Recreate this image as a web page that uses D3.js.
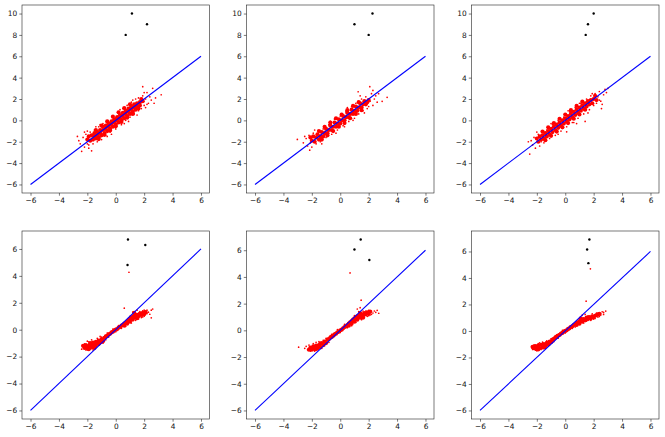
<!DOCTYPE html>
<html lang="en">
<head>
<meta charset="utf-8">
<script src="https://cdn.jsdelivr.net/npm/d3@7"></script>
<style>
  body { margin: 0; background: #fff; }
  text { font-family: "DejaVu Sans", sans-serif; }
</style>
</head>
<body>
<svg id="chart" width="665" height="437"></svg>

<script>
// ---- data, one set per panel ----
// dense middle of each red cloud
var core1 = [[-1.9,-1.5],[-1.8,-1.9],[-1.7,-1.4],[-1.6,-1.8],[-1.5,-1.2],[-1.5,-1.5],[-1.4,-1.7],[-1.3,-1.1],[-1.3,-1.4],[-1.2,-1.6],[-1.1,-0.9],[-1.1,-1.2],[-1.0,-1.4],[-0.9,-0.6],[-0.9,-0.9],[-0.8,-1.2],[-0.7,-0.5],[-0.7,-0.8],[-0.6,-1.0],[-0.5,-0.3],[-0.5,-0.6],[-0.4,-0.8],[-0.3,-0.1],[-0.3,-0.4],[-0.2,-0.6],[-0.1,0.1],[-0.1,-0.2],[0.0,-0.4],[0.1,0.3],[0.1,0.0],[0.2,-0.2],[0.3,0.5],[0.3,0.2],[0.4,0.0],[0.5,0.7],[0.5,0.4],[0.6,0.2],[0.7,0.9],[0.7,0.6],[0.8,0.4],[0.9,1.1],[0.9,0.8],[1.0,0.6],[1.1,1.3],[1.1,1.0],[1.2,0.8],[1.3,1.5],[1.3,1.2],[1.4,1.0],[1.5,1.6],[1.5,1.3],[1.7,1.7],[1.7,1.4],[1.9,1.8],
  [-1.4,-0.9],[-1.0,-0.5],[-0.6,-0.1],[-0.2,0.35],[0.2,0.75],[0.6,1.15],[1.0,1.5],[-1.2,-1.75],[-0.8,-1.35],[-0.4,-0.95],[0.0,-0.55],[0.4,-0.15],[0.8,0.25],[1.2,0.6],[1.6,1.1],[1.8,2.0],[-2.0,-1.8]];
var core2 = [[-2.0,-1.9],[-1.9,-1.5],[-1.8,-2.0],[-1.7,-1.6],[-1.6,-1.3],[-1.5,-1.8],[-1.4,-1.5],[-1.3,-1.1],[-1.2,-1.5],[-1.1,-1.2],[-1.0,-0.8],[-0.9,-1.2],[-0.8,-0.9],[-0.7,-0.5],[-0.6,-0.9],[-0.5,-0.6],[-0.4,-0.2],[-0.3,-0.6],[-0.2,-0.3],[-0.1,0.1],[0.0,-0.3],[0.1,0.0],[0.2,0.4],[0.3,0.0],[0.4,0.3],[0.5,0.7],[0.6,0.3],[0.7,0.6],[0.8,1.0],[0.9,0.6],[1.0,0.9],[1.1,1.3],[1.2,0.9],[1.3,1.2],[1.4,1.6],[1.5,1.2],[1.6,1.5],[1.7,1.8],[1.8,1.5],[1.9,1.7],
  [-1.5,-1.0],[-1.1,-0.6],[-0.7,-0.2],[-0.3,0.2],[0.1,0.55],[0.5,0.95],[0.9,1.35],[1.3,1.7],[-1.3,-1.8],[-0.9,-1.4],[-0.5,-1.0],[-0.1,-0.6],[0.3,-0.25],[0.7,0.2],[1.1,0.6],[1.5,0.95],[2.0,1.9],[-2.1,-1.6]];
var core3 = [[-2.0,-1.7],[-1.9,-2.0],[-1.8,-1.5],[-1.7,-1.8],[-1.6,-1.4],[-1.5,-1.7],[-1.4,-1.2],[-1.3,-1.5],[-1.2,-1.0],[-1.1,-1.3],[-1.0,-0.8],[-0.9,-1.1],[-0.8,-0.6],[-0.7,-0.9],[-0.6,-0.4],[-0.5,-0.7],[-0.4,-0.2],[-0.3,-0.5],[-0.2,0.0],[-0.1,-0.3],[0.0,0.2],[0.1,-0.1],[0.2,0.4],[0.3,0.1],[0.4,0.6],[0.5,0.3],[0.6,0.8],[0.7,0.5],[0.8,1.0],[0.9,0.7],[1.0,1.2],[1.1,0.9],[1.2,1.4],[1.3,1.1],[1.4,1.6],[1.5,1.3],[1.6,1.8],[1.7,1.5],[1.8,1.9],[1.9,1.6],[2.0,2.0],
  [-1.6,-1.05],[-1.2,-0.65],[-0.8,-0.25],[-0.4,0.15],[0.0,0.55],[0.4,0.95],[0.8,1.35],[1.2,1.75],[-1.4,-1.85],[-1.0,-1.45],[-0.6,-1.05],[-0.2,-0.65],[0.2,-0.25],[0.6,0.15],[1.0,0.55],[1.4,1.0],[2.1,2.3],[2.2,1.9]];
var core4 = [[-2.2,-1.35],[-2.1,-1.15],[-2.0,-1.4],[-1.9,-1.2],[-1.8,-1.0],[-1.8,-1.35],[-1.7,-1.15],[-1.6,-0.95],[-1.6,-1.3],[-1.5,-1.1],[-1.4,-0.9],[-1.4,-1.2],[-1.3,-1.0],[-1.2,-0.8],[-1.1,-0.95],[-1.0,-0.7],[-0.9,-0.85],[-0.8,-0.6],[-0.7,-0.5],[-0.6,-0.45],[-0.5,-0.35],[-0.4,-0.3],[-0.3,-0.2],[-0.2,-0.15],[-0.1,-0.05],[0.0,0.0],[0.1,0.05],[0.2,0.15],[0.3,0.2],[0.4,0.3],[0.5,0.35],[0.6,0.45],[0.6,0.3],[0.7,0.5],[0.8,0.6],[0.8,0.45],[0.9,0.7],[1.0,0.8],[1.0,0.6],[1.1,0.9],[1.2,0.95],[1.2,0.75],[1.3,1.05],[1.4,0.9],[1.5,1.1],[1.6,1.0],[1.7,1.2],[1.8,1.1],[1.9,1.25],[2.0,1.15],
  [-2.3,-1.2],[-1.9,-1.45],[-1.5,-1.35],[-1.2,-1.05],[1.3,1.25],[1.5,0.85],[2.1,1.3]];
var core5 = [[-2.1,-1.3],[-2.0,-1.45],[-1.9,-1.2],[-1.8,-1.4],[-1.7,-1.15],[-1.6,-1.35],[-1.5,-1.1],[-1.4,-1.25],[-1.3,-0.95],[-1.2,-1.1],[-1.1,-0.85],[-1.0,-0.95],[-0.9,-0.7],[-0.8,-0.65],[-0.7,-0.55],[-0.6,-0.5],[-0.5,-0.4],[-0.4,-0.3],[-0.3,-0.25],[-0.2,-0.15],[-0.1,-0.1],[0.0,0.0],[0.1,0.05],[0.2,0.15],[0.3,0.25],[0.4,0.3],[0.5,0.4],[0.6,0.5],[0.6,0.35],[0.7,0.6],[0.8,0.7],[0.8,0.5],[0.9,0.8],[1.0,0.9],[1.0,0.65],[1.1,0.95],[1.2,1.05],[1.2,0.8],[1.3,1.1],[1.4,0.95],[1.5,1.2],[1.6,1.1],[1.7,1.3],[1.8,1.2],[1.9,1.35],[2.0,1.25],[2.1,1.4],
  [-2.2,-1.45],[-1.7,-1.4],[-1.4,-1.0],[1.4,1.3],[1.6,0.95]];
var core6 = [[-2.2,-1.3],[-2.1,-1.15],[-2.0,-1.35],[-1.9,-1.1],[-1.8,-1.3],[-1.7,-1.05],[-1.6,-1.25],[-1.5,-1.0],[-1.4,-1.15],[-1.3,-0.9],[-1.2,-1.0],[-1.1,-0.8],[-1.0,-0.85],[-0.9,-0.65],[-0.8,-0.6],[-0.7,-0.5],[-0.6,-0.45],[-0.5,-0.35],[-0.4,-0.3],[-0.3,-0.2],[-0.2,-0.15],[-0.1,-0.05],[0.0,0.0],[0.1,0.05],[0.2,0.15],[0.3,0.2],[0.4,0.3],[0.5,0.35],[0.6,0.45],[0.7,0.5],[0.8,0.6],[0.8,0.45],[0.9,0.65],[1.0,0.75],[1.0,0.55],[1.1,0.8],[1.2,0.7],[1.3,0.9],[1.4,0.8],[1.5,1.0],[1.6,0.9],[1.7,1.05],[1.8,0.95],[1.9,1.1],[2.0,1.05],[2.1,1.15],[2.2,1.2],[2.3,1.25],
  [-2.3,-1.2],[-1.9,-1.4],[-1.5,-1.25],[1.1,0.95],[2.4,1.3]];

// scattered red points round the edge of each cloud
var fringe1 = [[-2.7,-1.5],[-2.4,-2.9],[-1.7,-2.85],[-2.5,-2.2],[-2.3,-1.6],[-2.2,-2.5],[-2.1,-1.3],[-2.0,-2.2],[-1.9,-2.6],[-2.0,-1.0],[-1.8,-1.1],[-1.6,-2.2],[-1.5,-0.9],[-1.3,-2.0],[-1.2,-0.6],[-1.0,-1.8],[-0.9,-0.3],[-0.7,-1.4],[-0.6,-0.1],[-0.4,-1.1],[-0.2,0.3],[0.0,-0.8],[0.2,0.7],[0.4,-0.4],[0.5,1.1],[0.7,0.0],[0.8,1.4],[1.0,0.3],[1.1,1.7],[1.3,0.6],[1.4,2.0],[1.6,0.9],[1.6,2.1],[1.8,1.1],[1.9,2.3],[1.9,3.15],[2.0,1.4],[2.1,2.0],[2.2,2.6],[2.3,1.6],[2.4,2.2],[2.6,3.0],[2.7,1.6],[2.5,1.9],[3.2,2.4],[2.1,1.2],[-0.3,-1.3],[0.9,-0.1],[-1.4,-0.6],
  [-2.6,-1.9],[-2.2,-1.1],[-1.9,-2.3],[-1.1,-0.4],[-0.6,-1.5],[0.3,1.0],[0.6,-0.3],[1.2,1.9],[1.5,0.5],[2.0,2.6],[2.2,1.5],[2.8,2.1]];
var fringe2 = [[-3.02,-1.78],[-2.15,-2.79],[-2.6,-2.1],[-2.4,-1.7],[-2.3,-2.4],[-2.2,-1.4],[-2.0,-2.5],[-1.9,-1.2],[-1.7,-2.2],[-1.5,-1.0],[-1.4,-2.0],[-1.2,-0.8],[-1.0,-1.6],[-0.8,-0.4],[-0.6,-1.3],[-0.4,0.1],[-0.2,-0.9],[0.0,0.4],[0.2,-0.5],[0.4,0.8],[0.6,-0.1],[0.8,1.3],[1.0,0.2],[1.1,1.6],[1.26,2.68],[1.3,0.6],[1.5,2.0],[1.6,0.9],[1.8,2.2],[1.9,1.1],[2.08,3.15],[2.1,1.8],[2.2,2.5],[2.3,1.4],[2.5,2.3],[2.6,1.7],[2.95,1.78],[3.3,2.16],[2.4,2.0],[2.0,1.3],[-1.1,-0.6],[0.3,-0.6],
  [-2.5,-1.5],[-2.1,-2.1],[-1.8,-0.9],[-1.3,-2.2],[-0.7,-0.1],[-0.3,-1.2],[0.5,1.2],[0.9,0.0],[1.4,2.3],[1.7,0.7],[2.3,2.8],[2.7,2.5]];
var fringe3 = [[-2.5,-3.16],[-2.4,-1.9],[-2.3,-2.3],[-2.2,-1.6],[-2.1,-2.6],[-1.9,-1.3],[-1.8,-2.4],[-1.6,-1.1],[-1.5,-2.1],[-1.3,-0.9],[-1.1,-1.7],[-0.9,-0.4],[-0.7,-1.4],[-0.5,0.0],[-0.3,-1.0],[-0.1,0.3],[0.1,-1.07],[0.1,-0.6],[0.3,0.8],[0.5,-0.2],[0.7,1.2],[0.9,0.2],[1.1,1.6],[1.3,0.6],[1.5,2.0],[1.7,1.0],[1.8,2.3],[2.0,1.4],[2.1,2.5],[2.2,1.6],[2.3,2.2],[2.4,2.7],[2.5,1.8],[2.7,2.4],[2.9,2.6],[3.0,3.0],[2.6,1.5],[2.55,1.1],[1.4,-0.1],[0.8,-0.3],
  [-2.6,-2.0],[-2.0,-1.1],[-1.7,-2.0],[-1.0,-0.3],[-0.5,-1.3],[0.2,0.9],[0.6,-0.2],[1.0,1.6],[1.6,0.7],[1.9,2.5],[2.4,1.9],[2.8,2.9]];
var fringe4 = [[-2.4,-1.45],[-2.3,-1.2],[-2.2,-1.05],[-2.1,-1.5],[-1.9,-0.9],[-1.7,-0.75],[-1.5,-1.35],[-1.3,-0.65],[-1.2,-1.15],[-1.0,-0.55],[-0.9,-1.0],[-0.6,-0.25],[-0.5,-0.55],[-0.2,0.05],[0.0,-0.15],[0.2,0.3],[0.4,0.1],[0.6,1.6],[0.93,4.27],[1.0,1.0],[1.1,0.5],[1.3,1.3],[1.4,0.7],[1.5,1.45],[1.6,0.8],[1.7,1.35],[1.8,0.9],[1.9,1.4],[2.0,1.0],[2.1,1.35],[2.2,1.2],[2.3,1.3],[2.4,1.15],[2.5,1.45],[2.5,0.88],[2.6,1.54],[2.0,1.45],[1.9,0.95],
  [-2.0,-0.85],[-1.6,-1.5],[-1.1,-0.5],[-0.7,-0.75],[0.7,0.25],[1.2,1.3],[2.2,1.45]];
var fringe5 = [[-2.93,-1.26],[-2.4,-1.2],[-2.3,-1.45],[-2.2,-1.1],[-2.1,-1.55],[-1.9,-1.0],[-1.7,-0.9],[-1.5,-0.85],[-1.3,-1.35],[-1.2,-0.75],[-1.0,-0.6],[-0.8,-0.9],[-0.6,-0.3],[-0.4,-0.45],[-0.2,0.05],[0.0,-0.15],[0.3,0.45],[0.5,0.2],[0.69,4.3],[1.47,2.26],[1.2,1.6],[1.3,1.4],[1.4,1.7],[1.1,0.6],[1.5,0.8],[1.6,1.45],[1.7,0.95],[1.8,1.45],[1.9,1.05],[2.0,1.5],[2.1,1.15],[2.2,1.45],[2.3,1.3],[2.4,1.45],[2.5,1.35],[2.2,1.2],[2.71,1.28],[2.0,1.1],
  [-2.5,-1.35],[-1.8,-1.55],[-1.1,-1.15],[-0.7,-0.4],[0.8,0.35],[1.0,1.1],[2.6,1.5]];
var fringe6 = [[-2.36,-1.27],[-2.3,-1.4],[-2.2,-1.05],[-2.0,-1.5],[-1.9,-0.95],[-1.7,-1.4],[-1.6,-0.85],[-1.4,-1.3],[-1.3,-0.75],[-1.1,-1.05],[-1.0,-0.6],[-0.8,-0.8],[-0.6,-0.3],[-0.5,-0.55],[-0.2,0.05],[0.0,-0.15],[0.3,0.35],[0.5,0.2],[1.77,4.69],[1.47,2.25],[1.0,0.95],[1.2,1.2],[1.3,0.6],[1.5,0.75],[1.6,1.15],[1.8,0.8],[1.9,1.3],[2.0,0.9],[2.2,1.35],[2.3,1.05],[2.4,1.35],[2.5,1.3],[2.6,1.45],[2.7,1.4],[2.85,1.5],[2.5,1.2],[2.4,1.1],
  [-2.1,-1.45],[-1.8,-0.9],[-1.2,-1.15],[-0.7,-0.35],[0.7,0.3],[1.4,1.25],[2.1,0.95],[2.7,1.25]];

// the three black points in each panel
var out1 = [[0.7,8],[1.14,10],[2.2,9]];
var out2 = [[1.0,9],[2.0,8],[2.27,10]];
var out3 = [[1.44,8],[1.6,9],[2.0,10]];
var out4 = [[0.86,6.7],[2.08,6.3],[0.83,4.81]];
var out5 = [[1.44,6.8],[1.0,6.05],[2.05,5.27]];
var out6 = [[1.7,6.9],[1.54,6.15],[1.63,5.12]];

// y = x reference line end points and tick values
var diag = [-6, 6];
var xTicks = [-6, -4, -2, 0, 2, 4, 6];
var yTicksTop = [-6, -4, -2, 0, 2, 4, 6, 8, 10];
var yTicksBottom = [-6, -4, -2, 0, 2, 4, 6];

var panels = [
  {core: core1, fringe: fringe1, out: out1, yTicks: yTicksTop},
  {core: core2, fringe: fringe2, out: out2, yTicks: yTicksTop},
  {core: core3, fringe: fringe3, out: out3, yTicks: yTicksTop},
  {core: core4, fringe: fringe4, out: out4, yTicks: yTicksBottom},
  {core: core5, fringe: fringe5, out: out5, yTicks: yTicksBottom},
  {core: core6, fringe: fringe6, out: out6, yTicks: yTicksBottom}
];

// ---- layout ----
var colLeft = [22, 246.5, 471.5], rowTop = [5, 231];
var w = 187.5, h = 188;

var svg = d3.select('#chart');
var fmt = function(d) { return d < 0 ? '\u2212' + (-d) : '' + d };

// matplotlib style autoscale: data extent plus 5% on each side
function padded(lo, hi) {
  var m = (hi - lo) * 0.05;
  return [lo - m, hi + m];
}

panels.forEach(function(p, i) {
  var g = svg.append('g')
    .attr('transform', 'translate(' + colLeft[i % 3] + ',' + rowTop[Math.floor(i / 3)] + ')');

  var all = p.core.concat(p.fringe, p.out);
  var xDom = padded(Math.min(diag[0], d3.min(all, function(d) { return d[0] })),
                    Math.max(diag[1], d3.max(all, function(d) { return d[0] })));
  var yDom = padded(Math.min(diag[0], d3.min(all, function(d) { return d[1] })),
                    Math.max(diag[1], d3.max(all, function(d) { return d[1] })));

  var x = d3.scaleLinear().domain(xDom).range([0, w]);
  var y = d3.scaleLinear().domain(yDom).range([h, 0]);

  // red cloud
  g.append('g').selectAll('circle')
    .data(p.core).enter().append('circle')
    .attr('cx', function(d) { return x(d[0]) })
    .attr('cy', function(d) { return y(d[1]) })
    .attr('r', 2.1)
    .attr('fill', 'red');
  g.append('g').selectAll('circle')
    .data(p.fringe).enter().append('circle')
    .attr('cx', function(d) { return x(d[0]) })
    .attr('cy', function(d) { return y(d[1]) })
    .attr('r', 0.85)
    .attr('fill', 'red');

  // black points
  g.append('g').selectAll('circle')
    .data(p.out).enter().append('circle')
    .attr('cx', function(d) { return x(d[0]) })
    .attr('cy', function(d) { return y(d[1]) })
    .attr('r', 1.2)
    .attr('fill', 'black');

  // blue y = x line
  g.append('line')
    .attr('x1', x(diag[0])).attr('y1', y(diag[0]))
    .attr('x2', x(diag[1])).attr('y2', y(diag[1]))
    .attr('stroke', 'blue')
    .attr('stroke-width', 1.1);

  // axes
  var xa = g.append('g').attr('transform', 'translate(0,' + h + ')')
    .call(d3.axisBottom(x).tickValues(xTicks).tickFormat(fmt).tickSize(2.7).tickPadding(2.2));
  var ya = g.append('g')
    .call(d3.axisLeft(y).tickValues(p.yTicks).tickFormat(fmt).tickSize(2.7).tickPadding(2.2));
  [xa, ya].forEach(function(a) {
    a.select('.domain').remove();
    a.selectAll('line').attr('stroke', '#222').attr('stroke-width', 0.6);
    a.selectAll('text').attr('font-size', '7.4px').attr('fill', '#111')
      .attr('font-family', '"DejaVu Sans", sans-serif');
  });

  // frame
  g.append('rect')
    .attr('width', w).attr('height', h)
    .attr('fill', 'none')
    .attr('stroke', '#222')
    .attr('stroke-width', 0.6);
});
</script>
</body>
</html>
